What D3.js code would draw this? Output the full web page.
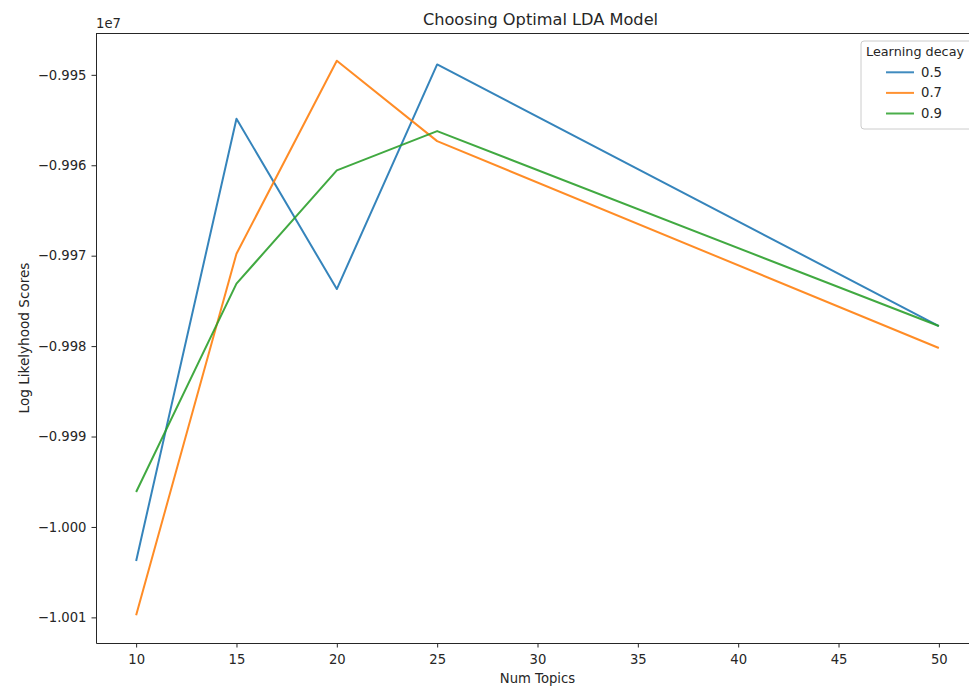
<!DOCTYPE html>
<html>
<head>
<meta charset="utf-8">
<script src="https://cdn.jsdelivr.net/npm/d3@7"></script>
<style>
  body { margin: 0; background: #fff; }
  svg text { font-family: "DejaVu Sans", sans-serif; fill: #262626; }
</style>
</head>
<body>
<div id="chart"></div>
<script>
const numTopics = [10, 15, 20, 25, 50];
const decays = ["0.5", "0.7", "0.9"];
const scores05 = [-10003763, -9954852, -9973692, -9948849, -9977782];
const scores07 = [-10009767, -9969778, -9948440, -9957329, -9980214];
const scores09 = [-9996135, -9973094, -9960568, -9956223, -9977782];
const colors = ["#1f77b4", "#ff7f0e", "#2ca02c"];
const xTicks = [10, 15, 20, 25, 30, 35, 40, 45, 50];
const yTicks = [-10010000, -10000000, -9990000, -9980000, -9970000, -9960000, -9950000];

const series = [scores05, scores07, scores09].map((s, i) => ({
  decay: decays[i],
  color: colors[i],
  values: s.map((v, j) => ({ topic: numTopics[j], score: v }))
}));

const width = 969;
const height = 686;
const margin = { top: 33, right: -10, bottom: 43, left: 96 };

const svg = d3.select("#chart")
  .append("svg")
  .attr("width", width)
  .attr("height", height);

// matplotlib style 5% padding
function padded(ext) {
  const d = ext[1] - ext[0];
  return [ext[0] - d * 0.05, ext[1] + d * 0.05];
}

const allScores = scores05.concat(scores07, scores09);

const x = d3.scaleLinear()
  .domain(padded(d3.extent(numTopics)))
  .range([margin.left, width - margin.right]);

const y = d3.scaleLinear()
  .domain(padded(d3.extent(allScores)))
  .range([height - margin.bottom, margin.top]);

const fmt = d => (d / 1e7).toFixed(3).replace("-", "\u2212");

const xAxis = svg.append("g")
  .attr("transform", `translate(0,${height - margin.bottom})`)
  .call(d3.axisBottom(x).tickValues(xTicks).tickSize(4.5).tickPadding(7).tickSizeOuter(0));

const yAxis = svg.append("g")
  .attr("transform", `translate(${margin.left},0)`)
  .call(d3.axisLeft(y).tickValues(yTicks).tickFormat(fmt).tickSize(4.5).tickPadding(5).tickSizeOuter(0));

[xAxis, yAxis].forEach(g => {
  g.attr("font-family", null).attr("font-size", null);
  g.select(".domain").attr("stroke", "#262626").attr("stroke-width", 1);
  g.selectAll(".tick line").attr("stroke", "#262626");
  g.selectAll(".tick text").style("font-size", "13.2px");
});

// top spine
svg.append("line")
  .attr("x1", margin.left)
  .attr("x2", width - margin.right)
  .attr("y1", margin.top + 0.5)
  .attr("y2", margin.top + 0.5)
  .attr("stroke", "#262626")
  .attr("stroke-width", 1);

const line = d3.line()
  .x(d => x(d.topic))
  .y(d => y(d.score));

svg.selectAll(".series")
  .data(series)
  .enter()
  .append("path")
  .attr("class", "series")
  .attr("fill", "none")
  .attr("stroke", d => d.color)
  .attr("stroke-width", 2)
  .attr("stroke-opacity", 0.9)
  .attr("stroke-linejoin", "round")
  .attr("d", d => line(d.values));

// offset text
svg.append("text")
  .attr("x", margin.left)
  .attr("y", 28)
  .style("font-size", "13.2px")
  .text("1e7");

svg.append("text")
  .attr("x", (margin.left + width - margin.right) / 2 + 3)
  .attr("y", 25)
  .attr("text-anchor", "middle")
  .style("font-size", "16.2px")
  .text("Choosing Optimal LDA Model");

svg.append("text")
  .attr("x", (margin.left + width - margin.right) / 2)
  .attr("y", 683)
  .attr("text-anchor", "middle")
  .style("font-size", "13.2px")
  .text("Num Topics");

svg.append("text")
  .attr("transform", `translate(29,${(margin.top + height - margin.bottom) / 2}) rotate(-90)`)
  .attr("text-anchor", "middle")
  .style("font-size", "13.6px")
  .text("Log Likelyhood Scores");

// legend
const legend = svg.append("g");

legend.append("rect")
  .attr("x", 861)
  .attr("y", 41)
  .attr("width", 112)
  .attr("height", 88)
  .attr("rx", 3)
  .attr("fill", "#fff")
  .attr("fill-opacity", 0.8)
  .attr("stroke", "#cccccc");

legend.append("text")
  .attr("x", 866)
  .attr("y", 56)
  .style("font-size", "12.8px")
  .text("Learning decay");

const items = legend.selectAll(".item")
  .data(series)
  .enter()
  .append("g")
  .attr("class", "item")
  .attr("transform", (d, i) => `translate(0,${72.3 + i * 20.6})`);

items.append("line")
  .attr("x1", 886)
  .attr("x2", 914)
  .attr("stroke", d => d.color)
  .attr("stroke-opacity", 0.85)
  .attr("stroke-width", 2);

items.append("text")
  .attr("x", 921)
  .attr("y", 4.5)
  .style("font-size", "13.2px")
  .text(d => d.decay);
</script>
</body>
</html>
